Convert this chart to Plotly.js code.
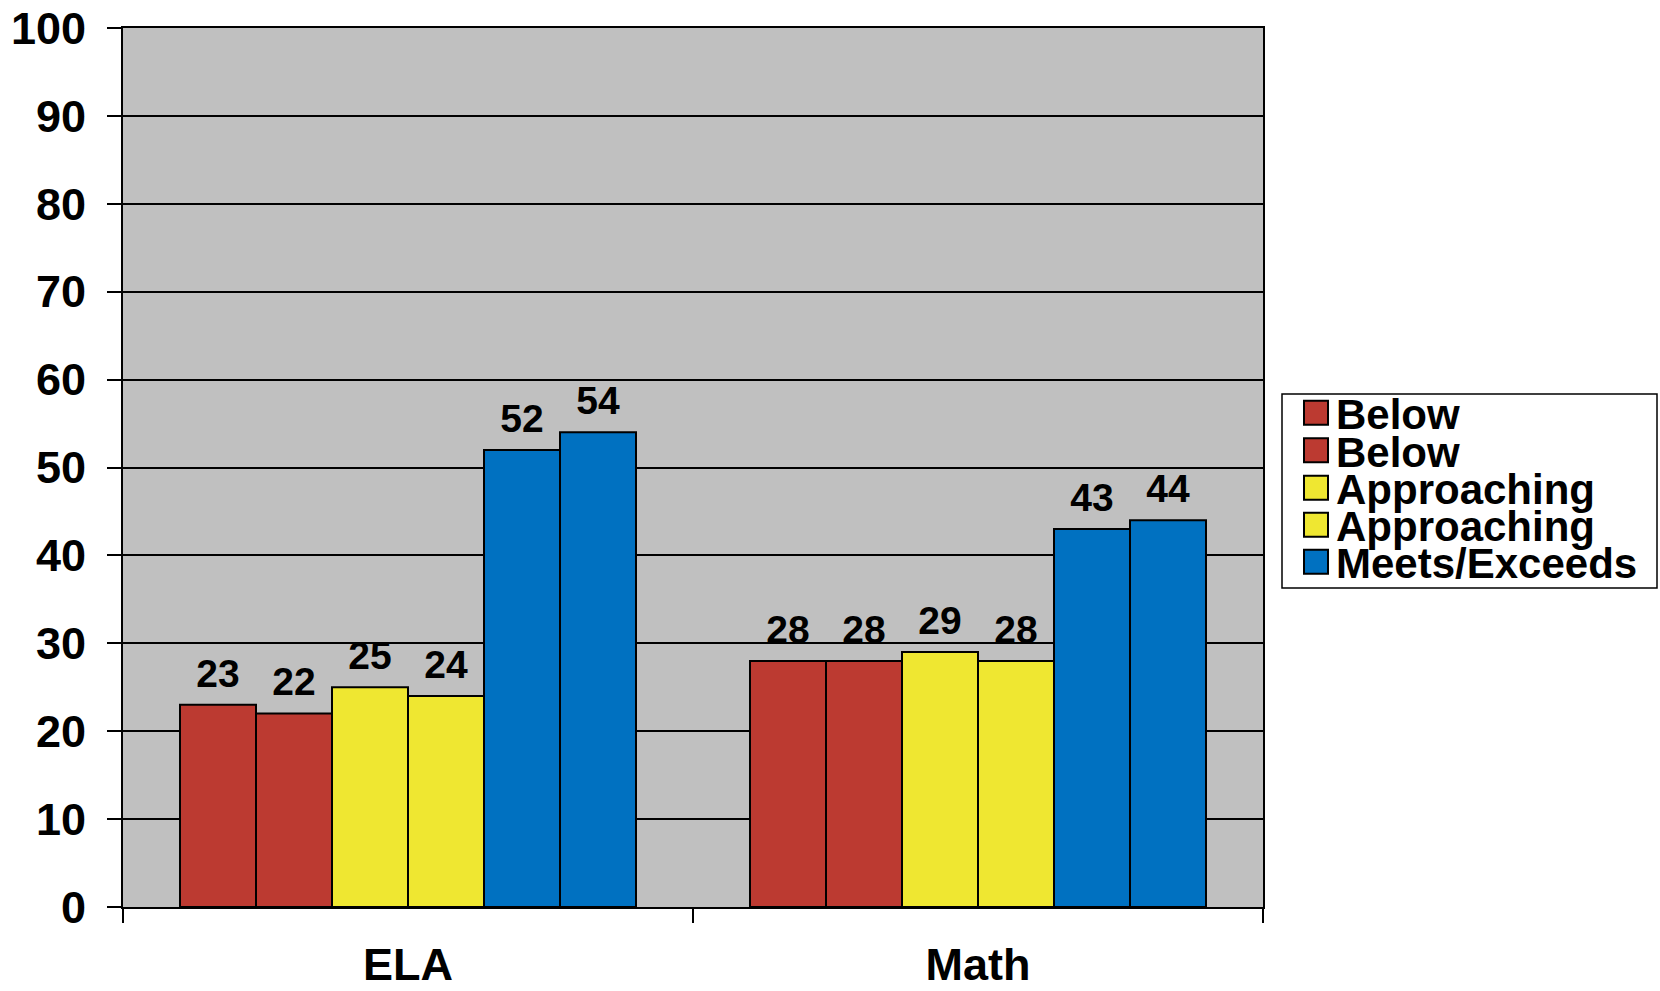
<!DOCTYPE html>
<html>
<head>
<meta charset="utf-8">
<script src="https://cdn.plot.ly/plotly-3.0.1.min.js"></script>
<style>
html,body{margin:0;padding:0;background:#fff;}
#chart{width:1660px;height:991px;}
#chart .legendpoints path.legendbar{d:path("M12,12H-12V-12H12Z");}
</style>
</head>
<body>
<div id="chart"></div>
<script>
// ---- data ----
const categories = ['ELA', 'Math'];
const seriesNames = ['Below', 'Below', 'Approaching', 'Approaching', 'Meets/Exceeds', 'Meets/Exceeds'];
const below1 = [23, 28];
const below2 = [22, 28];
const approaching1 = [25, 29];
const approaching2 = [24, 28];
const meets1 = [52, 43];
const meets2 = [54, 44];
const yTickValues = [0, 10, 20, 30, 40, 50, 60, 70, 80, 90, 100];

// ---- styles ----
const seriesValues = [below1, below2, approaching1, approaching2, meets1, meets2];
const seriesColors = ['#BC3A31', '#BC3A31', '#EFE731', '#EFE731', '#0071C1', '#0071C1'];
const FONT = 'Liberation Sans, Arial, sans-serif';
const W = 1660, H = 991;
const M = {l: 123, r: 397, t: 28, b: 84};
const plotW = W - M.l - M.r, plotH = H - M.t - M.b;
const px2x = p => (p - M.l) / plotW;
const px2y = p => (H - M.b - p) / plotH;

const legendIds = ['legend', 'legend2', 'legend3', 'legend4', 'legend5', 'legend6'];
const legendRowsPx = [413, 450.5, 488, 525, 562, 599.5];

const traces = [];
seriesValues.forEach((vals, i) => {
  traces.push({
    type: 'bar',
    name: seriesNames[i],
    x: categories,
    y: vals,
    offsetgroup: 'b' + i,
    alignmentgroup: 'bars',
    marker: {color: seriesColors[i], line: {color: '#000', width: 2}},
    legend: legendIds[i],
    showlegend: i < 5,
    hoverinfo: 'skip'
  });
});
seriesValues.forEach((vals, i) => {
  traces.push({
    type: 'scatter',
    mode: 'markers+text',
    orientation: 'v',
    offsetgroup: 's' + i,
    alignmentgroup: 'labels',
    x: categories,
    y: vals,
    text: vals.map(String),
    textposition: 'top center',
    textfont: {family: FONT, size: 39, color: '#000', weight: 'bold'},
    marker: {size: 12, opacity: 0, color: '#000'},
    showlegend: false,
    cliponaxis: false,
    hoverinfo: 'skip'
  });
});

const layout = {
  width: W, height: H,
  margin: {l: M.l, r: M.r, t: M.t, b: M.b, pad: 0},
  paper_bgcolor: '#fff',
  plot_bgcolor: '#C0C0C0',
  showlegend: true,
  barmode: 'group',
  bargap: 0.2,
  bargroupgap: 0,
  scattermode: 'group',
  scattergap: 0.2,
  font: {family: FONT, color: '#000'},
  xaxis: {
    type: 'category',
    tickson: 'boundaries',
    ticks: 'outside', ticklen: 14, tickwidth: 2, tickcolor: '#000',
    showline: true, linecolor: '#000', linewidth: 2, mirror: true,
    showgrid: false,
    tickfont: {family: FONT, size: 45, color: '#000', weight: 'bold'},
    ticklabelstandoff: 17
  },
  yaxis: {
    range: [0, 100],
    tickvals: yTickValues,
    ticktext: yTickValues.map(String),
    ticks: 'outside', ticklen: 14, tickwidth: 2, tickcolor: '#000',
    showline: true, linecolor: '#000', linewidth: 2, mirror: true,
    showgrid: true, gridcolor: '#000', gridwidth: 2,
    zeroline: false,
    tickfont: {family: FONT, size: 45, color: '#000', weight: 'bold'},
    ticklabelstandoff: 12
  },
  shapes: [{
    type: 'rect', xref: 'paper', yref: 'paper',
    x0: px2x(1282), x1: px2x(1657), y0: px2y(588), y1: px2y(394),
    line: {color: '#000', width: 1.5}, fillcolor: '#fff', layer: 'below'
  }]
};
legendIds.forEach((id, i) => {
  layout[id] = {
    visible: true,
    x: px2x(1296), xanchor: 'left',
    y: px2y(legendRowsPx[i]), yanchor: 'middle',
    bgcolor: 'rgba(0,0,0,0)', borderwidth: 0,
    font: {family: FONT, size: 42, color: '#000', weight: 'bold'},
    itemclick: false, itemdoubleclick: false
  };
});

function growLegendSymbols(gd) {
  gd.querySelectorAll('.legendpoints path').forEach(p => p.setAttribute('d', 'M12,12H-12V-12H12Z'));
}
Plotly.newPlot('chart', traces, layout, {staticPlot: true, displayModeBar: false}).then(gd => {
  growLegendSymbols(gd);
  setTimeout(() => growLegendSymbols(gd), 50);
  setTimeout(() => growLegendSymbols(gd), 300);
});
</script>
</body>
</html>
